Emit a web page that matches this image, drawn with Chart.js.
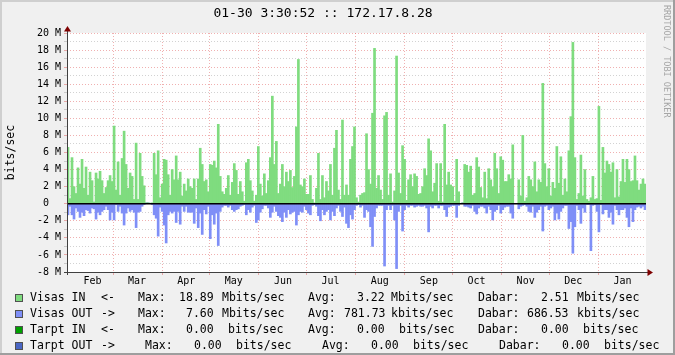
<!DOCTYPE html>
<html>
<head>
<meta charset="utf-8">
<script src="https://cdn.jsdelivr.net/npm/chart.js@4/dist/chart.umd.min.js"></script>
<style>
html, body { margin: 0; padding: 0; background: #f0f0f0; }
canvas { display: block; }
</style>
</head>
<body>
<canvas id="trafficChart" width="675" height="355"></canvas>
<script>
// Mbits/sec, one sample per bar
var visasIn = [
    6.6, 0.6, 5.4, 2.0, 1.2, 4.2, 2.3, 5.2, 1.8, 4.3, 1.0, 3.7, 2.7, 0.2, 3.6, 2.9, 3.8, 2.7, 1.2, 1.9,
    2.7, 3.3, 2.6, 9.1, 1.6, 4.9, 1.0, 5.3, 8.5, 4.6, 1.8, 3.6, 3.2, 0.5, 7.1, 0.5, 5.9, 3.2, 2.1, 0.1,
    0.1, 0.05, 0.1, 5.9, 3.4, 6.2, 0.7, 2.3, 5.2, 5.1, 3.4, 1.0, 4.0, 2.8, 5.6, 2.8, 3.7, 0.9, 2.3,
    1.5, 2.9, 2.0, 1.8, 2.9, 0.5, 2.9, 6.5, 4.6, 2.6, 2.8, 1.4, 4.6, 4.5, 5.0, 4.2, 9.3, 3.2, 1.4, 1.1,
    1.8, 3.3, 1.0, 2.5, 4.7, 3.9, 1.1, 2.6, 1.4, 0.3, 4.8, 5.2, 2.7, 1.5, 0.3, 1.0, 6.7, 2.3, 0.9, 3.5,
    1.2, 2.7, 5.4, 12.6, 4.6, 7.3, 1.2, 2.3, 4.6, 2.0, 3.7, 2.6, 3.9, 1.9, 3.2, 9.0, 16.9, 2.2,
    2.0, 2.9, 1.1, 1.1, 3.3, 0.5, 0.1, 1.8, 5.9, 0.5, 3.3, 0.7, 2.6, 1.5, 4.6, 1.0, 6.5, 8.6, 1.6, 0.5,
    9.8, 1.0, 2.2, 1.0, 5.2, 6.7, 9.0, 0.7, 0.2, 1.0, 1.2, 1.3, 8.2, 4.0, 2.3, 10.6, 18.2, 1.8, 3.3, 1.6,
    0.5, 10.3, 10.7, 1.0, 3.5, 0.2, 1.5, 17.3, 3.6, 1.2, 6.8, 5.2, 0.4, 2.8, 3.4, 2.0, 3.5, 3.2,
    1.1, 1.2, 2.0, 4.1, 3.3, 7.6, 6.2, 1.4, 2.4, 4.7, 0.3, 4.7, 0.2, 9.3, 2.2, 3.7, 2.2, 2.0, 0.3, 5.2,
    1.4, 0, 0.1, 4.6, 4.5, 3.7, 4.4, 1.0, 1.2, 5.4, 4.3, 1.9, 0.7, 3.7, 0.6, 4.1, 2.8, 2.0, 5.9, 4.1,
    1.2, 5.5, 5.1, 2.6, 2.6, 3.4, 2.9, 6.9, 0, 0, 2.8, 0.9, 8.0, 0.3, 0.7, 3.2, 2.8, 2.0,
    4.9, 1.4, 2.8, 2.5, 14.1, 4.7, 2.0, 4.1, 0.9, 2.5, 1.8, 6.7, 2.4, 5.5, 1.0, 2.9, 1.4, 6.2, 10.2, 18.9,
    5.4, 0.5, 1.2, 5.7, 0.9, 4.0, 0.5, 0.3, 0.7, 3.2, 0.5, 0.6, 11.4, 0.4, 6.6, 3.6, 5.0, 4.6, 3.7, 4.8,
    0.7, 4.0, 0.8, 2.6, 5.2, 2.5, 5.2, 4.0, 2.6, 2.7, 5.6, 2.7, 1.6, 2.3, 2.9, 2.3
];
var visasOut = [
    -1.3, -0.3, -1.3, -1.8, -0.5, -0.9, -1.6, -1.0, -1.4, -0.7, -0.8, -1.1, -0.5, -0.6, -1.8, -1.0, -1.3, -0.9, -0.7, -0.3,
    -0.7, -1.9, -1.0, -1.9, -0.1, -0.9, -0.3, -1.1, -2.5, -1.1, -0.5, -0.9, -0.7, -1.0, -2.8, -1.0, -0.9, -0.3, -0.1, 0,
    0, 0, -0.1, -1.3, -1.7, -3.8, -0.4, -0.9, -2.5, -4.6, -1.3, -0.9, -1.1, -0.9, -2.2, -0.9, -2.4, -0.3, -0.9,
    -0.3, -1.0, -1.0, -1.0, -2.3, -0.5, -2.8, -1.1, -3.6, -0.7, -1.2, -0.3, -4.1, -1.3, -2.4, -1.1, -4.9, -0.9, -0.4, -0.2,
    -0.2, -0.4, -0.2, -0.7, -0.9, -0.7, -0.6, -0.3, -0.2, -0.1, -1.3, -0.7, -1.0, -0.4, -0.2, -2.2, -1.9, -1.0, -0.6, -0.2,
    -0.2, -0.5, -1.6, -1.0, -0.3, -0.9, -1.4, -1.6, -2.1, -1.0, -1.6, -0.7, -1.2, -1.0, -0.9, -2.5, -1.3, -0.9,
    -1.0, -0.3, -0.7, -1.1, -1.3, -0.2, -0.1, -0.3, -1.4, -2.0, -0.7, -1.3, -0.9, -0.7, -1.9, -0.9, -1.4, -0.5, -0.2, -0.9,
    -1.5, -0.4, -2.3, -2.8, -1.3, -1.8, -0.7, -0.2, -0.1, -0.4, -0.2, -1.6, -0.7, -0.9, -2.7, -5.0, -1.5, -0.5, -0.2, -0.2,
    -0.2, -7.3, -0.7, -0.2, -0.7, -0.2, -1.9, -7.6, -0.9, -0.2, -3.2, -0.7, -0.2, -0.4, -0.2, -0.2, -0.4, -0.3,
    -0.2, -0.3, -0.3, -0.2, -0.5, -3.3, -0.3, -0.5, -0.2, -0.2, -0.5, -0.2, -0.2, -0.7, -1.5, -0.4, -0.3, -0.2, -0.2, -1.6,
    -0.2, 0, 0, -0.3, -0.3, -0.4, -0.5, -0.2, -0.9, -1.2, -0.5, -0.3, -0.3, -0.5, -1.1, -0.3, -0.7, -1.9, -0.9, -0.7,
    -0.2, -1.1, -0.7, -0.4, -0.3, -0.3, -1.1, -1.7, 0, 0, -0.6, -0.3, -0.2, -0.1, -0.3, -0.9, -1.0, -0.3,
    -1.6, -1.0, -0.7, -0.3, -3.2, -0.3, -0.2, -0.7, -0.5, -0.3, -1.9, -1.1, -1.8, -0.9, -0.5, -0.2, -0.2, -2.9, -2.1, -5.8,
    -2.7, -0.2, -0.7, -2.3, -0.5, -1.0, -0.1, -0.1, -5.5, -0.2, -0.1, -0.9, -3.3, -0.1, -1.2, -0.7, -0.7, -1.6, -1.0, -2.4,
    -0.2, -0.7, -1.3, -0.7, -0.7, -0.5, -1.6, -2.7, -0.5, -2.1, -0.7, -0.4, -0.3, -0.5, -0.3, -0.7
];

// month starts, in days after the first sample (365 days shown)
var monthNames = ['Feb', 'Mar', 'Apr', 'May', 'Jun', 'Jul', 'Aug', 'Sep', 'Oct', 'Nov', 'Dec', 'Jan'];
var monthStarts = [1, 29, 60, 90, 121, 151, 182, 213, 243, 274, 304, 335];
var daysShown = 365;

var yTickValues = [-8, -7, -6, -5, -4, -3, -2, -1, 0, 1, 2, 3, 4, 5, 6, 7, 8, 9, 10, 11, 12, 13, 14, 15, 16, 17, 18, 19, 20];

var legendNames = ['Visas IN', 'Visas OUT', 'Tarpt IN', 'Tarpt OUT'];
var legendArrows = ['<-', '->', '<-', '->'];
var legendColors = ['#7fdc7f', '#7f8ff7', '#00a000', '#4a66c4'];
var maxVals = ['18.89', '7.60', '0.00', '0.00'];
var maxUnits = ['Mbits/sec', 'Mbits/sec', 'bits/sec', 'bits/sec'];
var avgVals = ['3.22', '781.73', '0.00', '0.00'];
var avgUnits = ['Mbits/sec', 'kbits/sec', 'bits/sec', 'bits/sec'];
var nowVals = ['2.51', '686.53', '0.00', '0.00'];
var nowUnits = ['Mbits/sec', 'kbits/sec', 'bits/sec', 'bits/sec'];

var MONO = "'DejaVu Sans Mono', monospace";
var GRID_MINOR = 'rgba(143, 143, 143, 0.4)';
var GRID_MAJOR = 'rgba(222, 80, 80, 0.45)';

// column x positions of the legend rows
var legendCols = [
    [30, 101, 138, 179, 222, 308, 357, 391, 478, 541, 577],
    [30, 101, 138, 186, 222, 308, 344, 391, 478, 527, 577],
    [30, 101, 138, 186, 228, 308, 357, 399, 478, 541, 583],
    [30, 101, 145, 194, 236, 322, 371, 413, 499, 562, 604]
];
var legendRowY = [298, 314, 330, 346];

var rrdDecor = {
    id: 'rrdDecor',
    beforeDraw: function (chart) {
        var ctx = chart.ctx, a = chart.chartArea, w = chart.width, h = chart.height;
        ctx.save();
        ctx.fillStyle = '#f0f0f0';
        ctx.fillRect(0, 0, w, h);
        ctx.fillStyle = '#cfcfcf';
        ctx.fillRect(0, 0, w, 2);
        ctx.fillRect(0, 0, 2, h);
        ctx.fillStyle = '#9e9e9e';
        ctx.fillRect(0, h - 2, w, 2);
        ctx.fillRect(w - 2, 0, 2, h);
        ctx.fillStyle = '#ffffff';
        ctx.fillRect(a.left, a.top, a.right - a.left, a.bottom - a.top);
        ctx.restore();
    },
    afterDatasetsDraw: function (chart) {
        var ctx = chart.ctx, a = chart.chartArea;
        var y0 = chart.scales.y.getPixelForValue(0);
        ctx.save();
        ctx.strokeStyle = '#000000';
        ctx.lineWidth = 1.6;
        ctx.beginPath();
        ctx.moveTo(a.left, y0);
        ctx.lineTo(a.right, y0);
        ctx.stroke();

        // axes with arrows
        ctx.strokeStyle = '#404040';
        ctx.lineWidth = 1;
        ctx.beginPath();
        ctx.moveTo(a.left - 3, a.bottom + 0.5);
        ctx.lineTo(a.right + 4, a.bottom + 0.5);
        ctx.moveTo(a.left + 0.5, a.bottom + 3);
        ctx.lineTo(a.left + 0.5, a.top - 5);
        ctx.stroke();
        ctx.fillStyle = '#7f0000';
        ctx.beginPath();
        ctx.moveTo(a.left + 0.5, a.top - 7);
        ctx.lineTo(a.left + 4, a.top - 1.5);
        ctx.lineTo(a.left - 3, a.top - 1.5);
        ctx.closePath();
        ctx.fill();
        ctx.beginPath();
        ctx.moveTo(a.right + 7, a.bottom + 0.5);
        ctx.lineTo(a.right + 1.5, a.bottom - 3);
        ctx.lineTo(a.right + 1.5, a.bottom + 4);
        ctx.closePath();
        ctx.fill();
        ctx.restore();
    },
    afterDraw: function (chart) {
        var ctx = chart.ctx;
        ctx.save();
        ctx.font = '11.5px ' + MONO;
        ctx.textBaseline = 'middle';
        ctx.textAlign = 'left';
        for (var i = 0; i < legendNames.length; i++) {
            var c = legendCols[i], y = legendRowY[i];
            ctx.fillStyle = legendColors[i];
            ctx.fillRect(15, y - 4, 8, 8);
            ctx.strokeStyle = '#505050';
            ctx.lineWidth = 1;
            ctx.strokeRect(15.5, y - 3.5, 7, 7);
            ctx.fillStyle = '#000000';
            var parts = [legendNames[i], legendArrows[i], 'Max:', maxVals[i], maxUnits[i],
                'Avg:', avgVals[i], avgUnits[i], 'Dabar:', nowVals[i], nowUnits[i]];
            for (var j = 0; j < parts.length; j++) {
                ctx.fillText(parts[j], c[j], y);
            }
        }
        // vertical credit on the right edge
        ctx.translate(666, 5);
        ctx.rotate(Math.PI / 2);
        ctx.font = '8.5px ' + MONO;
        ctx.fillStyle = '#a6a6a6';
        ctx.textBaseline = 'middle';
        ctx.fillText('RRDTOOL / TOBI OETIKER', 0, 0);
        ctx.restore();
    }
};

var ctx = document.getElementById('trafficChart').getContext('2d');
var trafficChart = new Chart(ctx, {
    type: 'bar',
    data: {
        labels: visasIn.map(function (v, i) { return i; }),
        datasets: [{
                label: 'Visas IN',
                data: visasIn,
                backgroundColor: '#7fdc7f',
                borderWidth: 0,
                barPercentage: 1,
                categoryPercentage: 1
            },
            {
                label: 'Visas OUT',
                data: visasOut,
                backgroundColor: '#7f8ff7',
                borderWidth: 0,
                barPercentage: 1,
                categoryPercentage: 1
            }
        ]
    },
    options: {
        responsive: false,
        animation: false,
        layout: { padding: { top: 0, right: 29, left: 0, bottom: 0 } },
        plugins: {
            legend: { display: false },
            tooltip: { enabled: false },
            title: {
                display: true,
                text: '01-30 3:30:52 :: 172.17.8.28',
                color: '#000000',
                font: { family: MONO, size: 13, weight: 'normal' },
                padding: { top: 6, bottom: 11.4 }
            }
        },
        scales: {
            x: { display: false, stacked: true },
            xm: {
                type: 'linear',
                position: 'bottom',
                min: 0,
                max: daysShown,
                offset: false,
                afterBuildTicks: function (scale) {
                    scale.ticks = monthStarts.map(function (d) { return { value: d }; });
                },
                afterFit: function (scale) { scale.height = 83; },
                ticks: {
                    autoSkip: false,
                    maxRotation: 0,
                    padding: 0,
                    labelOffset: 24,
                    color: '#000000',
                    font: { family: MONO, size: 10 },
                    callback: function (value, index) { return monthNames[index]; }
                },
                grid: {
                    offset: false,
                    color: function (c) { return c.index === 0 ? 'rgba(0,0,0,0)' : GRID_MAJOR; },
                    tickColor: function (c) { return c.index === 0 ? 'rgba(0,0,0,0)' : GRID_MAJOR; },
                    tickLength: 3
                },
                border: { display: false, dash: [1, 2] }
            },
            y: {
                stacked: true,
                min: -8,
                max: 20,
                afterBuildTicks: function (scale) {
                    scale.ticks = yTickValues.map(function (v) { return { value: v }; });
                },
                afterFit: function (scale) { scale.width = 67; },
                ticks: {
                    autoSkip: false,
                    padding: 3,
                    color: '#000000',
                    font: { family: MONO, size: 10 },
                    callback: function (value) {
                        if (value % 2 !== 0) return '';
                        // rrdtool keeps the zero in the digit column
                        return value === 0 ? '0  ' : value + ' M';
                    }
                },
                grid: {
                    color: function (c) { return c.tick.value % 2 === 0 ? GRID_MAJOR : GRID_MINOR; },
                    tickColor: function (c) { return c.tick.value % 2 === 0 ? GRID_MAJOR : GRID_MINOR; },
                    tickLength: 3
                },
                border: { display: false, dash: [1, 2] },
                title: {
                    display: true,
                    text: 'bits/sec',
                    color: '#000000',
                    font: { family: MONO, size: 11.5 },
                    padding: { top: 4, bottom: 0 }
                }
            }
        }
    },
    plugins: [rrdDecor]
});
</script>
</body>
</html>
